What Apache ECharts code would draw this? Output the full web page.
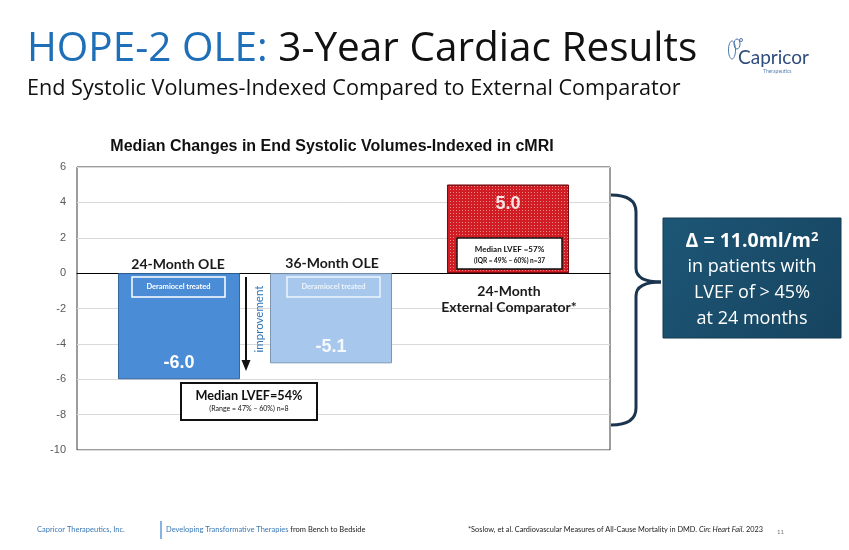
<!DOCTYPE html>
<html><head><meta charset="utf-8">
<script src="https://cdn.jsdelivr.net/npm/echarts@6/dist/echarts.min.js"></script>
<style>html,body{margin:0;padding:0;background:#fff}#c{width:849px;height:550px}</style>
</head><body><div id="c"></div>
<script>
// ---- data ----
const categories = ['Deramiocel treated', '24-Month External Comparator'];
const month24Values = [-6.0, 5.0];   // 24-Month OLE (treated) and 24-Month External Comparator
const month36Values = [-5.1, null];  // 36-Month OLE (treated)
const yMin = -10, yMax = 6, yInterval = 2;
const yTickLabels = ['-10', '-8', '-6', '-4', '-2', '0', '2', '4', '6'];

// ---- styles ----
const blue24 = '#4a8cd6', blue36 = '#a7c8ec', red = '#d01c22';
const chart = echarts.init(document.getElementById('c'), null, {renderer: 'canvas'});

const fmt = p => (p.value == null ? '' : Number(p.value).toFixed(1));
const item24 = month24Values.map((v, i) => ({
  value: v,
  itemStyle: i === 0
    ? {color: blue24, borderColor: '#35679e', borderWidth: 1}
    : {color: red, borderColor: '#7a0c10', borderWidth: 1,
       decal: {symbol: 'rect', symbolSize: 1, color: 'rgba(255,225,225,0.55)', dashArrayX: [1, 2], dashArrayY: [1, 2]}},
  label: i === 0
    ? {position: 'insideBottom', distance: 7, color: '#ffffff'}
    : {position: 'insideTop', distance: 10, color: '#f2e4e4'}
}));
const item36 = month36Values.map(v => ({
  value: v,
  itemStyle: {color: blue36, borderColor: '#7d97b3', borderWidth: 1},
  label: {position: 'insideBottom', distance: 7, color: '#f4f8fc'}
}));

const labelBase = {show: true, formatter: fmt, fontFamily: 'Liberation Sans', fontWeight: 'bold', fontSize: 18};

function txt(text, x, y, font, fill, align) {
  return {type: 'text', z: 50, style: {text, x, y, font, fill, textAlign: align || 'center', textVerticalAlign: 'middle'}};
}
function seg(x1, y1, x2, y2, color, w) {
  return {type: 'line', z: 50, shape: {x1, y1, x2, y2}, style: {stroke: color, lineWidth: w}};
}
function curve(x1, y1, cpx1, cpy1, x2, y2, color, w) {
  return {type: 'bezierCurve', z: 50, shape: {x1, y1, cpx1, cpy1, x2, y2}, style: {stroke: color, lineWidth: w, fill: null}};
}
const braceColor = '#1b3550';

const graphics = [
  // Title
  {type: 'text', z: 50, style: {x: 27, y: 49, textVerticalAlign: 'middle', text: '{a|HOPE-2 OLE:}{b| 3-Year Cardiac Results}',
    rich: {a: {fill: '#1f6fb8', font: '40.5px "Open Sans"'}, b: {fill: '#111', font: '40.5px "Open Sans"'}}}},
  txt('End Systolic Volumes-Indexed Compared to External Comparator', 27, 89, '21.6px "Open Sans"', '#111', 'left'),
  // logo
  txt('Capricor', 738, 58, '19px Lato', '#2d4c7c', 'left'),
  txt('Therapeutics', 763, 71, '5px Lato', '#5d7fb0', 'left'),
  {type: 'ellipse', z: 50, shape: {cx: 732, cy: 50, rx: 3.5, ry: 9}, style: {fill: 'none', stroke: '#4f74aa', lineWidth: 1}},
  {type: 'ellipse', z: 50, shape: {cx: 737, cy: 44, rx: 3, ry: 5}, style: {fill: 'none', stroke: '#4f74aa', lineWidth: 1}},
  {type: 'circle', z: 50, shape: {cx: 741, cy: 40, r: 1.5}, style: {fill: 'none', stroke: '#4f74aa', lineWidth: 1}},
  // chart title
  txt('Median Changes in End Systolic Volumes-Indexed in cMRI', 332, 147, 'bold 16px "Liberation Sans"', '#111'),
  // category labels
  txt('24-Month OLE', 178, 264, 'bold 14px Lato', '#1a1a1a'),
  txt('36-Month OLE', 332, 263, 'bold 14px Lato', '#1a1a1a'),
  txt('24-Month', 509, 291, 'bold 14px Lato', '#1a1a1a'),
  txt('External Comparator*', 509, 307, 'bold 14px Lato', '#1a1a1a'),
  // Deramiocel treated boxes
  {type: 'rect', z: 50, shape: {x: 132, y: 277, width: 93, height: 20}, style: {fill: 'none', stroke: '#ffffff', lineWidth: 1.5}},
  txt('Deramiocel treated', 178.5, 287, 'bold 7.5px Lato', '#ffffff'),
  {type: 'rect', z: 50, shape: {x: 287, y: 277, width: 93, height: 20}, style: {fill: 'none', stroke: '#eef4fb', lineWidth: 1.5}},
  txt('Deramiocel treated', 333.5, 287, 'bold 7.5px Lato', '#eef4fb'),
  // improvement arrow
  seg(246, 277, 246, 362, '#111', 2),
  {type: 'polygon', z: 50, shape: {points: [[241.5, 360], [250.5, 360], [246, 371]]}, style: {fill: '#111'}},
  {type: 'text', z: 50, x: 259, y: 319, rotation: Math.PI / 2,
    style: {text: 'improvement', x: 0, y: 0, font: '11.5px Lato', fill: '#2e75b6', textAlign: 'center', textVerticalAlign: 'middle'}},
  // Median LVEF 54 box
  {type: 'rect', z: 50, shape: {x: 181, y: 383, width: 136, height: 37}, style: {fill: '#fff', stroke: '#111', lineWidth: 2}},
  txt('Median LVEF=54%', 249, 396, 'bold 12.7px Lato', '#111'),
  txt('(Range = 47% \u2013 60%) n=8', 249, 409, '7px Lato', '#111'),
  // comparator box
  {type: 'rect', z: 50, shape: {x: 457, y: 238, width: 105, height: 31}, style: {fill: '#fff', stroke: '#111', lineWidth: 1.5}},
  txt('Median LVEF =57%', 509.5, 249, 'bold 8px Lato', '#111'),
  txt('(IQR = 49% \u2013 60%) n=37', 509.5, 261, 'bold 6.5px Lato', '#111'),
  // brace
  curve(611, 195, 636, 195, 636, 212, braceColor, 3),
  seg(636, 212, 636, 268, braceColor, 3),
  curve(636, 268, 636, 282, 661, 282, braceColor, 3),
  curve(661, 282, 636, 282, 636, 296, braceColor, 3),
  seg(636, 296, 636, 408, braceColor, 3),
  curve(636, 408, 636, 425, 611, 425, braceColor, 3),
  // delta box
  {type: 'rect', z: 50, shape: {x: 663, y: 218, width: 178, height: 120},
    style: {fill: {type: 'linear', x: 0, y: 0, x2: 1, y2: 1, colorStops: [{offset: 0, color: '#1d5676'}, {offset: 1, color: '#16445f'}]}, stroke: '#123a52', lineWidth: 1}},
  {type: 'text', z: 51, style: {x: 752, y: 241, textAlign: 'center', textVerticalAlign: 'middle', text: '{a|\u0394 = 11.0ml/m}{s|2}',
    rich: {a: {fill: '#fff', font: 'bold 19.5px "Open Sans"'}, s: {fill: '#fff', font: 'bold 13px "Open Sans"', verticalAlign: 'top', padding: [0, 0, 6, 0]}}}},
  txt('in patients with', 752, 267, '18px "Open Sans"', '#ffffff'),
  txt('LVEF of > 45%', 752, 293, '18px "Open Sans"', '#ffffff'),
  txt('at 24 months', 752, 319, '18px "Open Sans"', '#ffffff'),
  // footer
  txt('Capricor Therapeutics, Inc.', 37, 530, '7.5px Lato', '#3a78b5', 'left'),
  seg(161, 521, 161, 539, '#5b9bd5', 1.5),
  {type: 'text', z: 50, style: {x: 166, y: 530, textVerticalAlign: 'middle', text: '{a|Developing Transformative Therapies}{b| from Bench to Bedside}',
    rich: {a: {fill: '#3a78b5', font: '7.5px Lato'}, b: {fill: '#222', font: '7.5px Lato'}}}},
  {type: 'text', z: 50, style: {x: 468, y: 530, textVerticalAlign: 'middle', text: '{a|*Soslow, et al. Cardiovascular Measures of All-Cause Mortality in DMD. }{i|Circ Heart Fail.}{a| 2023}',
    rich: {a: {fill: '#222', font: '7.35px Lato'}, i: {fill: '#222', font: 'italic 7.35px Lato'}}}},
  txt('11', 777, 532, '6px Lato', '#777', 'left')
];

const option = {
  backgroundColor: '#ffffff',
  animation: false,
  grid: [
    {left: 77, top: 167, width: 533, height: 283, show: true, borderColor: '#3a3a3a', borderWidth: 1, backgroundColor: 'transparent'},
    {left: 90.5, top: 167, width: 658, height: 283, show: false}
  ],
  xAxis: [
    {type: 'category', gridIndex: 0, data: [''], axisLine: {show: true, onZero: true, lineStyle: {color: '#000', width: 1}},
      axisTick: {show: false}, axisLabel: {show: false}, splitLine: {show: false}},
    {type: 'category', gridIndex: 1, data: categories, show: false}
  ],
  yAxis: [
    {type: 'value', gridIndex: 0, min: yMin, max: yMax, interval: yInterval,
      axisLine: {show: false}, axisTick: {show: false},
      axisLabel: {color: '#595959', fontSize: 11, fontFamily: 'Liberation Sans', margin: 11,
        formatter: v => yTickLabels[Math.round((v - yMin) / yInterval)]},
      splitLine: {show: true, lineStyle: {color: '#d9d9d9', width: 1}}},
    {type: 'value', gridIndex: 1, min: yMin, max: yMax, interval: yInterval, show: false, splitLine: {show: false}}
  ],
  series: [
    {name: '24-Month', type: 'bar', xAxisIndex: 1, yAxisIndex: 1, data: item24, barWidth: 122, barGap: '24.6%', label: labelBase, z: 3},
    {name: '36-Month', type: 'bar', xAxisIndex: 1, yAxisIndex: 1, data: item36, barWidth: 122, barGap: '24.6%', label: labelBase, z: 3}
  ],
  graphic: graphics
};
chart.setOption(option);
</script></body></html>
